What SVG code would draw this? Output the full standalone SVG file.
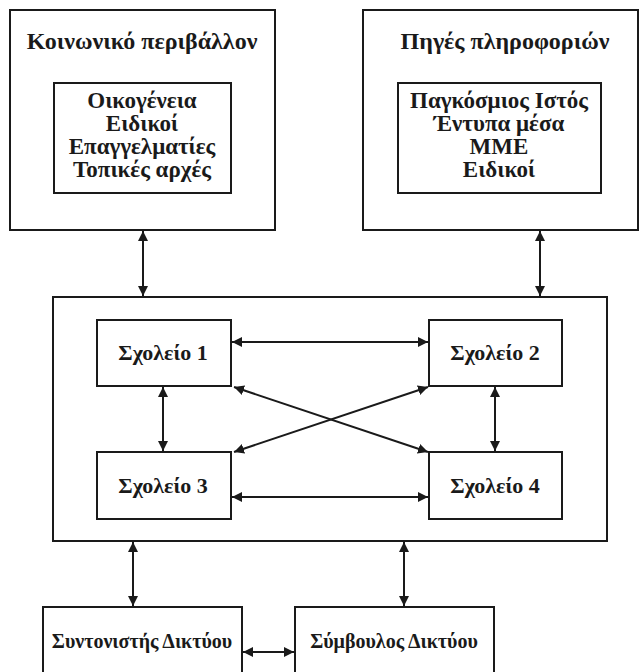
<svg xmlns="http://www.w3.org/2000/svg" width="641" height="672" viewBox="0 0 641 672">
<style>
.box{fill:none;stroke:#1a1a1a;stroke-width:2}
.t{font-family:"Liberation Serif","Times New Roman",serif;font-weight:bold;fill:#1a1a1a;text-anchor:middle}
.title{font-size:24px}
.item{font-size:23px}
.school{font-size:22px}
.bottom{font-size:20px}
.c{stroke:#1a1a1a;stroke-width:2;fill:none;marker-start:url(#ah);marker-end:url(#ah)}
</style>
<defs>
<marker id="ah" viewBox="0 0 10 10" refX="10" refY="5" markerWidth="5" markerHeight="5" orient="auto-start-reverse" markerUnits="strokeWidth">
<path d="M0,0 L10,5 L0,10 z" fill="#1a1a1a"/>
</marker>
</defs>
<rect width="641" height="672" fill="#fff"/>
<g id="social">
<rect class="box" x="10" y="10" width="265" height="220"/>
<text class="t title" x="142" y="49">Κοινωνικό περιβάλλον</text>
<rect class="box" x="54" y="83" width="177" height="110"/>
<text class="t item" x="142" y="108">Οικογένεια</text>
<text class="t item" x="142" y="131">Ειδικοί</text>
<text class="t item" x="142" y="154">Επαγγελματίες</text>
<text class="t item" x="142" y="177">Τοπικές αρχές</text>
</g>
<g id="sources">
<rect class="box" x="363" y="10" width="275" height="220"/>
<text class="t title" x="505" y="49">Πηγές πληροφοριών</text>
<rect class="box" x="398" y="83" width="203" height="110"/>
<text class="t item" x="499" y="108">Παγκόσμιος Ιστός</text>
<text class="t item" x="499" y="131">Έντυπα μέσα</text>
<text class="t item" x="499" y="154">ΜΜΕ</text>
<text class="t item" x="499" y="177">Ειδικοί</text>
</g>
<g id="network">
<rect class="box" x="53" y="297" width="554" height="244"/>
</g>
<g id="school1">
<rect class="box" x="97" y="320" width="134" height="66"/>
<text class="t school" x="163" y="360">Σχολείο 1</text>
</g>
<g id="school2">
<rect class="box" x="429" y="320" width="133" height="66"/>
<text class="t school" x="495" y="360">Σχολείο 2</text>
</g>
<g id="school3">
<rect class="box" x="97" y="452" width="134" height="67"/>
<text class="t school" x="163" y="493">Σχολείο 3</text>
</g>
<g id="school4">
<rect class="box" x="429" y="452" width="133" height="67"/>
<text class="t school" x="495" y="493">Σχολείο 4</text>
</g>
<g id="coordinator">
<rect class="box" x="43" y="607" width="199" height="80"/>
<text class="t bottom" x="142" y="648">Συντονιστής Δικτύου</text>
</g>
<g id="advisor">
<rect class="box" x="295" y="607" width="199" height="80"/>
<text class="t bottom" x="394" y="648">Σύμβουλος Δικτύου</text>
</g>
<g id="connectors">
<line class="c" x1="143" y1="231" x2="143" y2="296"/>
<line class="c" x1="540" y1="231" x2="540" y2="296"/>
<line class="c" x1="232" y1="342" x2="428" y2="342"/>
<line class="c" x1="232" y1="497" x2="428" y2="497"/>
<line class="c" x1="163" y1="387" x2="163" y2="451"/>
<line class="c" x1="495" y1="387" x2="495" y2="451"/>
<line class="c" x1="234" y1="387" x2="428" y2="452"/>
<line class="c" x1="234" y1="452" x2="428" y2="387"/>
<line class="c" x1="133" y1="542" x2="133" y2="606"/>
<line class="c" x1="404" y1="542" x2="404" y2="606"/>
<line class="c" x1="243" y1="652" x2="294" y2="652"/>
</g>
</svg>
